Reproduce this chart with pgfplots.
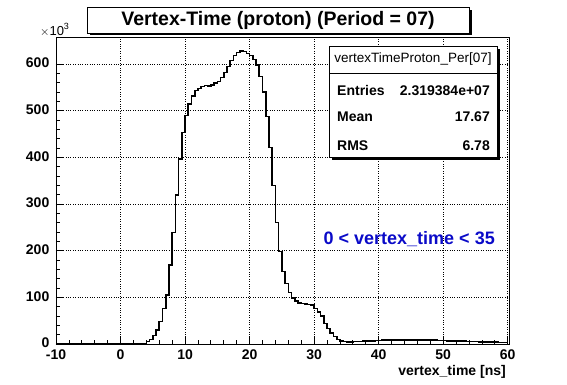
\documentclass[border=0pt]{standalone}
\usepackage{fontspec}
\setmainfont{Liberation Sans}
\usepackage{pgfplots}
\pgfplotsset{compat=1.18}
\definecolor{rootblue}{RGB}{10,10,200}
\pgfplotstableread{
x y
-10 0
3 0.5
3.5 1.5
4 5
4.5 10
5 18
5.5 30
6 48
6.5 76
7 105
7.5 169
8 239
8.5 319
9 396
9.5 453
10 490
10.5 514
11 532
11.5 543
12 548
12.5 552
13 554
13.5 553
14 555
14.5 559
15 563
15.5 571
16 582
16.5 595
17 608
17.5 618
18 625
18.5 628
19 627
19.5 623
20 618
20.5 610
21 598
21.5 573
22 540
22.5 488
23 421
23.5 340
24 260
24.5 198
25 155
25.5 130
26 110
26.5 98
27 92
27.5 88
28 87
28.5 86
29 85
29.5 83
30 76
30.5 69
31 60
31.5 44
32 33
32.5 23
33 16
33.5 10
34 6
34.5 5
35 4.5
35.5 4.5
36 5
36.5 5.5
37 5.5
37.5 6
38 6.5
38.5 6.5
39 7
39.5 7.5
40 7.5
40.5 8
41 8
41.5 8.5
42 8.5
42.5 8.5
43 9
43.5 9
44 9
44.5 9
45 9
45.5 9
46 9
46.5 8.5
47 8.5
47.5 8.5
48 8
48.5 8
49 7.5
49.5 7.5
50 7.5
50.5 7
51 7
51.5 6.5
52 6.5
52.5 6
53 6
53.5 5.5
54 5.5
54.5 5
55 5
55.5 4.5
56 4.5
56.5 4.5
57 4
57.5 4
58 4
58.5 3.5
59 3.5
59.5 3.5
60 3.5
}\histdata
\begin{document}
\begin{tikzpicture}[x=1pt,y=1pt]
\path[use as bounding box] (-56,-40) rectangle (511,344);
\begin{axis}[at={(0,0)}, anchor=south west, scale only axis,
  width=453pt, height=307pt,
  xmin=-10, xmax=60.2, ymin=0, ymax=658,
  xtick={-10,0,10,20,30,40,50,60},
  xticklabels={-10,0,10,20,30,40,50,60},
  ytick={0,100,200,300,400,500,600},
  yticklabels={0,100,200,300,400,500,600},
  minor x tick num=4, minor y tick num=4,
  tick align=inside, xtick pos=bottom, ytick pos=left,
  major tick length=8pt, minor tick length=4pt,
  grid=major, major grid style={black, dotted, line width=0.7pt},
  minor grid style={draw=none},
  tick style={black, line width=0.8pt},
  axis line style={line width=0.9pt},
  ticklabel style={font=\fontsize{14}{14}\selectfont\bfseries, inner sep=1pt},
  yticklabel style={xshift=-5.5pt, yshift=1pt},
  xticklabel style={yshift=-4.5pt},
  clip=false,
]
\addplot[const plot mark left, black, line width=1.6pt] table[x=x,y=y] {\histdata};
\end{axis}
% x 10^3
\node[anchor=base west, inner sep=0pt, font=\fontsize{13}{13}\selectfont] at (-16,309) {$\times$10\raisebox{0.45em}{\fontsize{9}{9}\selectfont 3}};
% axis label
\node[anchor=base east, inner sep=0pt, font=\fontsize{14}{14}\selectfont\bfseries] at (450,-31) {vertex\_time [ns]};
% title box
\fill[black] (34,309) rectangle (416,334);
\draw[fill=white, line width=0.8pt] (31,311) rectangle (413,337);
\node[font=\fontsize{19.5}{19.5}\selectfont\bfseries, inner sep=0pt] at (222,324) {Vertex-Time (proton) (Period = 07)};
% stats box
\fill[black] (276,184) rectangle (444,295);
\draw[fill=white, line width=0.8pt] (273,187) rectangle (441,298);
\draw[line width=0.8pt] (273,271) -- (441,271);
\node[font=\fontsize{13.5}{13.5}\selectfont, inner sep=0pt] at (357,284.5) {vertexTimeProton\_Per[07]};
\node[anchor=base west, inner sep=0pt, font=\fontsize{14}{14}\selectfont\bfseries] at (281,249) {Entries};
\node[anchor=base east, inner sep=0pt, font=\fontsize{14}{14}\selectfont\bfseries] at (434,249) {2.319384e+07};
\node[anchor=base west, inner sep=0pt, font=\fontsize{14}{14}\selectfont\bfseries] at (281,223) {Mean};
\node[anchor=base east, inner sep=0pt, font=\fontsize{14}{14}\selectfont\bfseries] at (434,223) {17.67};
\node[anchor=base west, inner sep=0pt, font=\fontsize{14}{14}\selectfont\bfseries] at (281,194) {RMS};
\node[anchor=base east, inner sep=0pt, font=\fontsize{14}{14}\selectfont\bfseries] at (434,194) {6.78};
% blue text
\node[anchor=east, inner sep=0pt, text=rootblue, font=\fontsize{18}{18}\selectfont\bfseries] at (439,105) {0 < vertex\_time < 35};
\end{tikzpicture}
\end{document}
